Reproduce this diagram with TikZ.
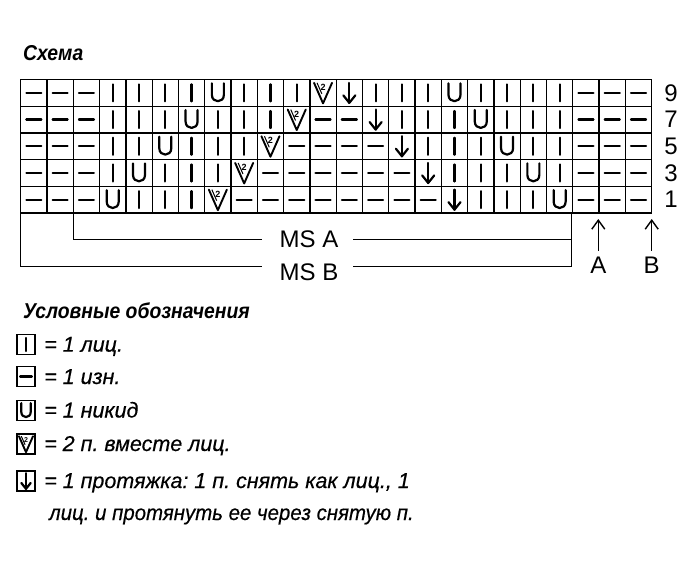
\documentclass[tikz,border=0pt]{standalone}
\usepackage{fontspec}
\usepackage{graphicx}
\setmainfont{Liberation Sans}
\newfontfamily\headfont[FakeStretch=0.9]{Liberation Sans}
\newfontfamily\legfont[FakeBold=0.4]{Liberation Sans}
\usetikzlibrary{arrows.meta}
\frenchspacing
\tikzset{
  gridline/.style={line width=1.3pt},
  sym/.style={line width=2.2pt, line cap=round, line join=round},
  symK/.pic={\draw[sym] (0,-8.5) -- (0,8.5);},
  symP/.pic={\draw[sym] (-7.5,0) -- (7.5,0);},
  symY/.pic={\draw[sym] (-6,-9.5) -- (-6,2) .. controls (-6,10.5) and (6,10.5) .. (6,2) -- (6,-9.5);},
  symT/.pic={\draw[sym, line width=1.9pt] (-9,-10) -- (0,10.5) -- (9,-10);
             \draw[line width=1pt] (-6,-10) -- (-1.2,1);
             \node[inner sep=0pt, transform shape, font=\fontsize{9}{9}\selectfont\bfseries] (two) at (0,-5.5) {2};},
  symS/.pic={\draw[sym] (0,-10) -- (0,10); \draw[sym] (-6,2.5) -- (0,10) -- (6,2.5);},
  txt/.style={inner sep=0pt, font=\fontsize{24}{28}\selectfont},
  leg/.style={inner sep=0pt, anchor=base west, font=\fontsize{21.5}{26}\selectfont\legfont\itshape},
  head/.style={inner sep=0pt, anchor=base west, font=\fontsize{21.5}{26}\selectfont\headfont\bfseries\itshape},
  legbox/.style={draw, line width=1.6pt, minimum width=18pt, minimum height=20pt, inner sep=0pt},
  marker/.style={line width=1.4pt, -{Straight Barb[length=9pt,width=13pt,line width=1.4pt]}},
}
\begin{document}
\begin{tikzpicture}[x=1pt, y=-1pt]
\useasboundingbox (0,0) rectangle (690,588);
\fill[white] (0,0) rectangle (690,588);

% title
\node[head] (title) at (23,60.5) {Схема};

% grid
\foreach \i in {0,...,24}
  \draw[gridline] ({20.7+\i*26.29},79.5) -- ({20.7+\i*26.29},213);
\foreach \j in {0,...,5}
  \draw[gridline] (20.7,{79.5+\j*26.7}) -- (651.7,{79.5+\j*26.7});

% cells
\foreach \row [count=\r from 0] in {
  {P,P,P,K,K,K,K,Y,K,K,K,T,S,K,K,K,Y,K,K,K,K,P,P,P},
  {P,P,P,K,K,K,Y,K,K,K,T,P,P,S,K,K,K,Y,K,K,K,P,P,P},
  {P,P,P,K,K,Y,K,K,K,T,P,P,P,P,S,K,K,K,Y,K,K,P,P,P},
  {P,P,P,K,Y,K,K,K,T,P,P,P,P,P,P,S,K,K,K,Y,K,P,P,P},
  {P,P,P,Y,K,K,K,T,P,P,P,P,P,P,P,P,S,K,K,K,Y,P,P,P}} {
  \foreach \c [count=\k from 0] in \row {
    \pic at ({20.7+(\k+0.5)*26.29},{79.5+(\r+0.5)*26.7}) {sym\c};
  }
}

% row numbers
\foreach \n [count=\r from 0] in {9,7,5,3,1}
  \node[txt] (row\n) at (671,{79.5+(\r+0.5)*26.7}) {\n};

% repeat brackets
\node[txt] (msa) at (309,239) {MS A};
\node[txt] (msb) at (309,272) {MS B};
\coordinate (msaL) at (73.3,213);
\coordinate (msbL) at (20.7,213);
\coordinate (msR) at (571.7,213);
\coordinate (msaE) at (261.7,239.3);
\coordinate (msaS) at (353.3,239.3);
\coordinate (msbE) at (261.7,266.7);
\coordinate (msbS) at (353.3,266.7);
\draw[gridline] (msaL) |- (msaE);
\draw[gridline] (msaS) -| (msR);
\draw[gridline] (msbL) |- (msbE);
\draw[gridline] (msbS) -| (msR);

% arrows A and B
\node[txt] (labA) at (598.3,265) {A};
\node[txt] (labB) at (651.7,265) {B};
\coordinate (tipA) at (598.3,219);
\coordinate (tipB) at (651.7,219);
\draw[marker] ([yshift=6pt]labA.north) -- (tipA);
\draw[marker] ([yshift=6pt]labB.north) -- (tipB);

% legend
\node[head] (leghead) at (23,318) {Условные обозначения};
\node[legbox] (b1) at (26,344.5) {};
\pic[scale=0.78] at (b1) {symK};
\node[leg] (t1) at (44,351.7) {= 1 лиц.};
\node[legbox] (b2) at (26,376.5) {};
\pic[scale=0.78] at (b2) {symP};
\node[leg] (t2) at (44,384) {= 1 изн.};
\node[legbox] (b3) at (26,410.5) {};
\pic[scale=0.78] at (b3) {symY};
\node[leg] (t3) at (44,417.5) {= 1 никид};
\node[legbox] (b4) at (26,444) {};
\pic[scale=0.78] at (b4) {symT};
\node[leg] (t4) at (44,451) {= 2 п. вместе лиц.};
\node[legbox] (b5) at (26,481) {};
\pic[scale=0.78] at (b5) {symS};
\node[leg] (t5) at (44,488) {= 1 протяжка: 1 п. снять как лиц., 1};
\node[leg] (t6) at (49,520) {\scalebox{0.95}[1]{лиц. и протянуть ее через снятую п.}};
\end{tikzpicture}
\end{document}
